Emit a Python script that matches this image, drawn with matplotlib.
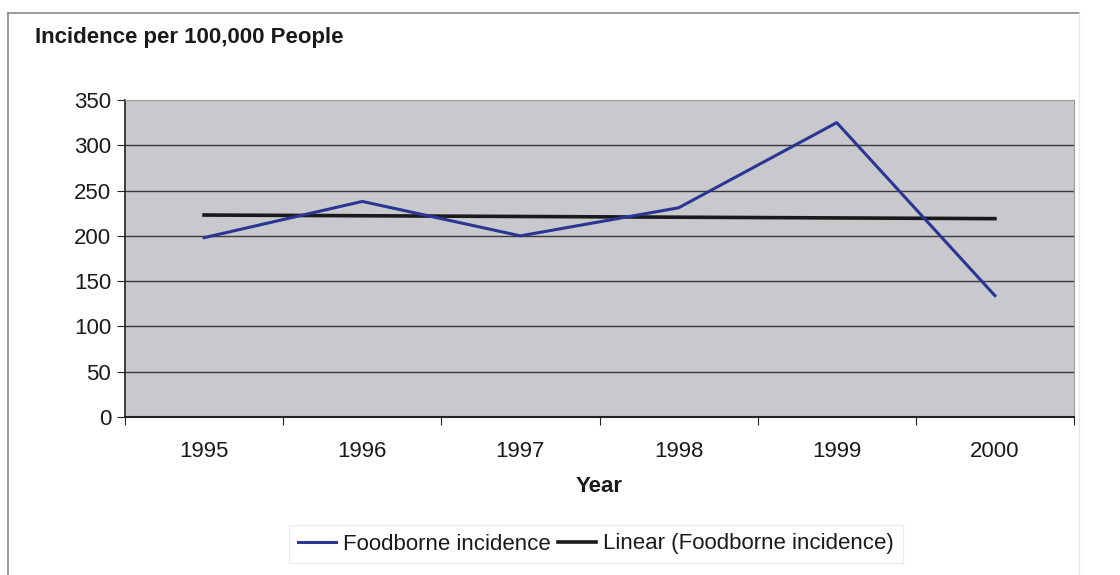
import numpy as np
import matplotlib
matplotlib.use('Agg')
from matplotlib import pyplot as plt
from matplotlib.lines import Line2D

plt.rcParams['font.family'] = ['Liberation Sans', 'DejaVu Sans']

years = ['1995', '1996', '1997', '1998', '1999', '2000']
incidence = [198, 238, 200, 231, 325, 134]
y_ticks = [0, 50, 100, 150, 200, 250, 300, 350]

W, H = 1120, 575
fig = plt.figure(figsize=(W / 100, H / 100), dpi=100)

# outer chart frame
fig.add_artist(Line2D([8 / W, 8 / W], [0, 1 - 13 / H], color='#8a8a8a', lw=1.2))
fig.add_artist(Line2D([8 / W, 1079 / W], [1 - 13 / H, 1 - 13 / H], color='#8a8a8a', lw=1.2))
fig.add_artist(Line2D([1079 / W, 1079 / W], [0, 1 - 13 / H], color='#e6e6e6', lw=1.0))

ax = fig.add_axes([125 / W, 1 - 417 / H, (1074 - 125) / W, (417 - 100) / H])
ax.set_facecolor('#c8c9cd')

x = np.arange(len(years))
slope, intercept = np.polyfit(x, incidence, 1)
trend = slope * x + intercept

for t in y_ticks[1:-1]:
    ax.axhline(t, color='#3a3a3a', lw=1.0, zorder=1)

ax.plot(x, incidence, color='#2b3594', lw=2.2, zorder=3, label='Foodborne incidence')
ax.plot(x, trend, color='#1a1a1a', lw=2.6, zorder=2, label='Linear (Foodborne incidence)')

ax.set_xlim(-0.5, len(years) - 0.5)
ax.set_ylim(0, 350)
ax.set_yticks(y_ticks)
ax.set_xticks(np.arange(-0.5, len(years)), labels=[''] * (len(years) + 1))
ax.set_xticks(x, labels=years, minor=True)
ax.tick_params(axis='x', which='major', direction='out', length=6, color='#222222')
ax.tick_params(axis='x', which='minor', length=0, pad=17, labelsize=16, labelcolor='#1a1a1a')
ax.tick_params(axis='y', direction='out', length=6, pad=4, labelsize=16, labelcolor='#1a1a1a', color='#222222')

ax.spines['left'].set_color('#222222')
ax.spines['bottom'].set_color('#222222')
ax.spines['left'].set_linewidth(1.2)
ax.spines['bottom'].set_linewidth(1.5)
ax.spines['top'].set_color('#9a9a9a')
ax.spines['right'].set_color('#9a9a9a')

fig.text(35 / W, 1 - 38 / H, 'Incidence per 100,000 People', fontsize=16,
         fontweight='bold', color='#1a1a1a', va='center', ha='left')
ax.set_xlabel('Year', fontsize=16, fontweight='bold', color='#1a1a1a', labelpad=10)

leg = fig.legend(loc='center', bbox_to_anchor=(596 / W, 1 - 544 / H), ncol=2,
                 fontsize=16, frameon=True, fancybox=False, handlelength=1.7,
                 handletextpad=0.35, columnspacing=0.3, borderpad=0.4)
leg.get_frame().set_edgecolor('#e8e8e8')
leg.get_frame().set_linewidth(1.0)
for txt in leg.get_texts():
    txt.set_color('#1a1a1a')

fig.savefig('out.png', dpi=100)
